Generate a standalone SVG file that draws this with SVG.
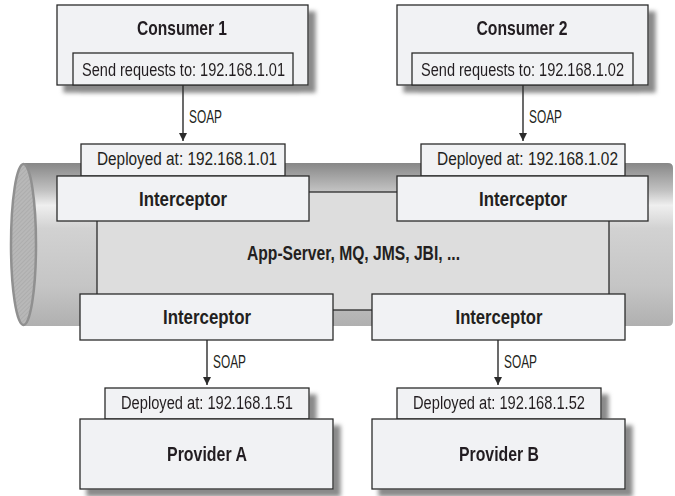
<svg xmlns="http://www.w3.org/2000/svg" width="675" height="496" viewBox="0 0 675 496">
<style>
.box{fill:#f1f2f4;stroke:#2b2b2b;stroke-width:1.3}
.t{font-family:"Liberation Sans",Arial,sans-serif;fill:#231f20;text-anchor:middle}
.b{font-weight:bold;font-size:21px}
.n{font-size:18px}
.s{font-family:"Liberation Sans",Arial,sans-serif;fill:#231f20;font-size:17.5px}
.ln{stroke:#2b2b2b;stroke-width:1.4;fill:none}
</style>
<defs>
<filter id="sh" x="-10%" y="-10%" width="130%" height="140%">
<feGaussianBlur in="SourceAlpha" stdDeviation="2"/>
<feOffset dx="7" dy="7" result="o"/>
<feFlood flood-color="#8a8a8a"/>
<feComposite in2="o" operator="in"/>
<feMerge><feMergeNode/><feMergeNode in="SourceGraphic"/></feMerge>
</filter>
<linearGradient id="cyl" x1="0" y1="163" x2="0" y2="326" gradientUnits="userSpaceOnUse">
<stop offset="0" stop-color="#878787"/>
<stop offset="0.17" stop-color="#c2c2c2"/>
<stop offset="0.26" stop-color="#efefef"/>
<stop offset="0.4" stop-color="#d2d2d2"/>
<stop offset="0.75" stop-color="#c5c5c5"/>
<stop offset="1" stop-color="#b0b0b0"/>
</linearGradient>
<pattern id="hatch" width="3" height="3" patternUnits="userSpaceOnUse" patternTransform="rotate(45)">
<rect width="3" height="3" fill="#b8b8b8"/>
<line x1="0" y1="0" x2="0" y2="3" stroke="#a2a2a2" stroke-width="1"/>
</pattern>
<marker id="ah" markerWidth="8" markerHeight="10" refX="8" refY="4" orient="auto" markerUnits="userSpaceOnUse">
<path d="M0,0 L8,4 L0,8 z" fill="#2b2b2b"/>
</marker>
</defs>

<g id="bus">
<path d="M23,163 H668 Q673,163 673,168 V321 Q673,326 668,326 H23 Z" fill="url(#cyl)"/>
<ellipse cx="23.5" cy="244.5" rx="12.5" ry="80.5" fill="url(#hatch)" stroke="#909090" stroke-width="2.5"/>
<rect x="97" y="192" width="512" height="118" fill="#dddddd" stroke="#2b2b2b" stroke-width="1.3"/>
<text class="t b" x="353.5" y="260" textLength="213" lengthAdjust="spacingAndGlyphs">App-Server, MQ, JMS, JBI, ...</text>
</g>

<g id="consumer1" filter="url(#sh)">
<rect class="box" x="57" y="5" width="251" height="80"/>
<rect class="box" x="73" y="53" width="220" height="32"/>
<text class="t b" x="182" y="35" textLength="90" lengthAdjust="spacingAndGlyphs">Consumer 1</text>
<text class="t n" x="183.5" y="76" textLength="203" lengthAdjust="spacingAndGlyphs">Send requests to: 192.168.1.01</text>
</g>

<g id="consumer2" filter="url(#sh)">
<rect class="box" x="397" y="5" width="251" height="80"/>
<rect class="box" x="412" y="53" width="221" height="32"/>
<text class="t b" x="522" y="35" textLength="91" lengthAdjust="spacingAndGlyphs">Consumer 2</text>
<text class="t n" x="522.5" y="76" textLength="203" lengthAdjust="spacingAndGlyphs">Send requests to: 192.168.1.02</text>
</g>

<g id="interceptor1">
<rect class="box" x="81" y="144" width="204" height="32"/>
<text class="t n" x="187" y="164.5" textLength="180" lengthAdjust="spacingAndGlyphs">Deployed at: 192.168.1.01</text>
<rect class="box" x="57" y="176" width="252" height="45"/>
<text class="t b" x="183" y="206" textLength="88" lengthAdjust="spacingAndGlyphs">Interceptor</text>
</g>

<g id="interceptor2">
<rect class="box" x="421" y="144" width="204" height="32"/>
<text class="t n" x="527.5" y="164.5" textLength="181" lengthAdjust="spacingAndGlyphs">Deployed at: 192.168.1.02</text>
<rect class="box" x="397" y="176" width="251" height="45"/>
<text class="t b" x="523" y="206" textLength="88" lengthAdjust="spacingAndGlyphs">Interceptor</text>
</g>

<g id="interceptor3">
<rect class="box" x="80" y="294" width="253" height="46"/>
<text class="t b" x="207" y="324" textLength="88" lengthAdjust="spacingAndGlyphs">Interceptor</text>
</g>

<g id="interceptor4">
<rect class="box" x="372" y="294" width="253" height="46"/>
<text class="t b" x="499" y="324" textLength="87" lengthAdjust="spacingAndGlyphs">Interceptor</text>
</g>

<g id="providerA" filter="url(#sh)">
<rect class="box" x="105" y="388" width="204" height="31"/>
<text class="t n" x="207" y="409" textLength="172" lengthAdjust="spacingAndGlyphs">Deployed at: 192.168.1.51</text>
<rect class="box" x="80" y="419" width="253" height="70"/>
<text class="t b" x="207" y="461" textLength="80" lengthAdjust="spacingAndGlyphs">Provider A</text>
</g>

<g id="providerB" filter="url(#sh)">
<rect class="box" x="397" y="388" width="204" height="31"/>
<text class="t n" x="499" y="409" textLength="172" lengthAdjust="spacingAndGlyphs">Deployed at: 192.168.1.52</text>
<rect class="box" x="372" y="419" width="253" height="70"/>
<text class="t b" x="499" y="461" textLength="80" lengthAdjust="spacingAndGlyphs">Provider B</text>
</g>

<g id="connectors">
<line class="ln" x1="183" y1="85" x2="183" y2="141" marker-end="url(#ah)"/>
<text class="s" x="189" y="123" textLength="33" lengthAdjust="spacingAndGlyphs">SOAP</text>
<line class="ln" x1="523" y1="85" x2="523" y2="141" marker-end="url(#ah)"/>
<text class="s" x="529" y="123" textLength="33" lengthAdjust="spacingAndGlyphs">SOAP</text>
<line class="ln" x1="207" y1="340" x2="207" y2="385" marker-end="url(#ah)"/>
<text class="s" x="213" y="368" textLength="33" lengthAdjust="spacingAndGlyphs">SOAP</text>
<line class="ln" x1="498" y1="340" x2="498" y2="385" marker-end="url(#ah)"/>
<text class="s" x="504" y="368" textLength="33" lengthAdjust="spacingAndGlyphs">SOAP</text>
</g>
</svg>
